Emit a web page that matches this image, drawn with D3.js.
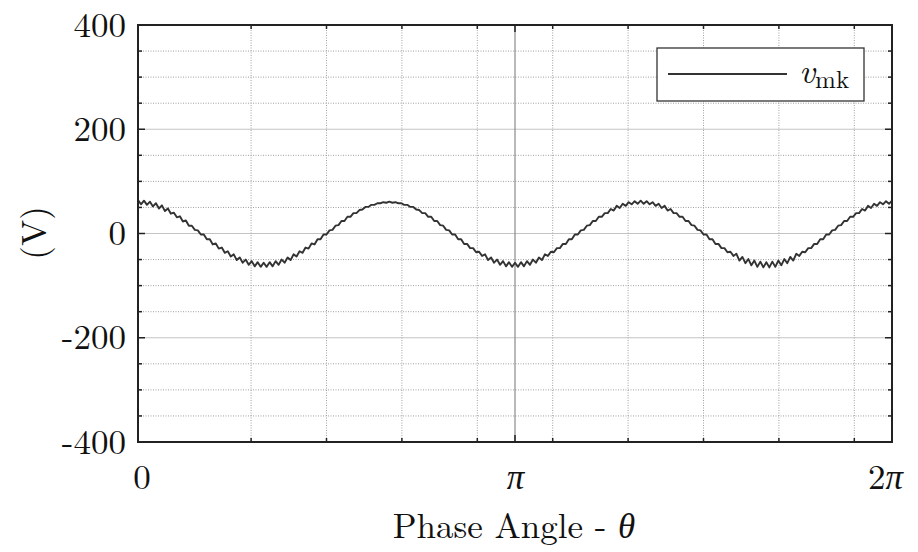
<!DOCTYPE html>
<html>
<head>
<meta charset="utf-8">
<style>
  body { margin: 0; background: #fff; }
</style>
</head>
<body>
<svg id="chart" width="918" height="552"></svg>
<script src="https://cdn.jsdelivr.net/npm/d3@7/dist/d3.min.js"></script>
<script>
// v_mk samples, evenly spaced over one turn 0..2pi (V)
var vmk = [
  64, 56, 63, 55, 61, 52, 58, 48, 54, 43, 48, 38, 40, 31, 33, 23, 25, 15, 15, 7, 6,
  -2, -2, -11, -11, -21, -19, -29, -27, -37, -34, -44, -40, -51, -46, -56, -50, -60, -53, -63, -55, -64,
  -56, -64, -55, -63, -53, -60, -50, -56, -46, -51, -40, -44, -34, -37, -27, -29, -19, -21, -11, -11, -2,
  -2, 6, 7, 15, 16, 24, 24, 32, 32, 39, 39, 45, 46, 51, 51, 55, 55, 58, 58, 60, 59,
  61, 59, 60, 58, 58, 55, 55, 51, 51, 46, 45, 39, 39, 32, 32, 24, 24, 16, 15, 7, 6,
  -2, -2, -11, -11, -20, -20, -28, -28, -36, -35, -43, -40, -51, -46, -56, -50, -60, -53, -63, -55, -64,
  -56, -64, -55, -63, -53, -60, -50, -56, -46, -51, -40, -43, -35, -36, -28, -28, -20, -20, -11, -11, -2,
  -2, 6, 7, 15, 16, 24, 24, 32, 32, 39, 39, 47, 44, 53, 49, 57, 53, 60, 56, 62, 57,
  63, 57, 62, 56, 60, 53, 57, 49, 53, 44, 47, 39, 39, 32, 32, 24, 24, 16, 15, 7, 6,
  -2, -2, -11, -11, -20, -20, -28, -28, -36, -35, -43, -39, -52, -45, -57, -49, -61, -52, -64, -54, -65,
  -55, -65, -54, -64, -52, -61, -49, -57, -45, -52, -39, -43, -35, -36, -28, -28, -20, -20, -11, -11, -2,
  -2, 6, 7, 15, 16, 24, 24, 32, 32, 39, 39, 47, 44, 53, 49, 57, 53, 60, 56, 62, 57, 63
];

var yTicks = [-400, -200, 0, 200, 400];
var yMinor = [-350, -300, -250, -150, -100, -50, 50, 100, 150, 250, 300, 350];
var xTicks = [0, 1, 2];                  // multiples of pi
var xTickCoef = ["0", "", "2"];          // upright part of the label
var xTickSym = ["", "π", "π"];           // italic part of the label
var xMinor = [0.3, 0.5, 0.7, 0.9, 1.1, 1.3, 1.5, 1.7, 1.9]; // multiples of pi
var seriesName = "v";
var seriesSub = "mk";

var FONT = "'Latin Modern Roman', 'Liberation Serif', serif";

var svg = d3.select("#chart"),
    margin = {top: 25, right: 26, bottom: 110, left: 138},
    width = +svg.attr("width") - margin.left - margin.right,
    height = +svg.attr("height") - margin.top - margin.bottom,
    g = svg.append("g").attr("transform", "translate(" + margin.left + "," + margin.top + ")");

var x = d3.scaleLinear().domain([0, 2 * Math.PI]).range([0, width]);
var y = d3.scaleLinear().domain([-400, 400]).range([height, 0]);

// grid
g.selectAll(".ygrid-minor")
    .data(yMinor)
  .enter().append("line")
    .attr("x1", 0).attr("x2", width)
    .attr("y1", function(d) { return y(d); }).attr("y2", function(d) { return y(d); })
    .attr("stroke", "#a0a0a0").attr("stroke-width", 1).attr("stroke-dasharray", "1,1.5");

g.selectAll(".ygrid-major")
    .data(yTicks.slice(1, -1))
  .enter().append("line")
    .attr("x1", 0).attr("x2", width)
    .attr("y1", function(d) { return y(d); }).attr("y2", function(d) { return y(d); })
    .attr("stroke", "#c4c4c4").attr("stroke-width", 1.2);

g.selectAll(".xgrid-minor")
    .data(xMinor)
  .enter().append("line")
    .attr("y1", 0).attr("y2", height)
    .attr("x1", function(d) { return x(d * Math.PI); }).attr("x2", function(d) { return x(d * Math.PI); })
    .attr("stroke", "#a0a0a0").attr("stroke-width", 1).attr("stroke-dasharray", "1,1.5");

g.append("line")
    .attr("y1", 0).attr("y2", height)
    .attr("x1", x(Math.PI)).attr("x2", x(Math.PI))
    .attr("stroke", "#8a8a8a").attr("stroke-width", 1.2);

// axes (inward ticks on all four sides, labels left and bottom)
var allY = yTicks.concat(yMinor);
var yTickLen = function(d) { return yTicks.indexOf(d) >= 0 ? 7 : 4; };

g.append("g")
    .call(d3.axisLeft(y).tickValues(yTicks).tickSize(0).tickPadding(12)
      .tickFormat(function(d) { return d < 0 ? "-" + Math.abs(d) : d; }))
    .call(function(a) { a.select(".domain").remove(); })
    .selectAll("text")
    .attr("font-size", 35).style("font-family", FONT).attr("fill", "#111");

var xa = g.append("g")
    .attr("transform", "translate(0," + height + ")")
    .call(d3.axisBottom(x).tickValues(xTicks.map(function(d) { return d * Math.PI; }))
      .tickSize(0).tickPadding(22)
      .tickFormat(function() { return ""; }))
    .call(function(a) { a.select(".domain").remove(); });

xa.selectAll(".tick text")
    .attr("font-size", 35).style("font-family", FONT).attr("fill", "#111")
    .attr("dx", function(d, i) { return i == 2 ? "-0.2em" : (i == 0 ? "0.1em" : 0); })
    .each(function(d, i) {
      var t = d3.select(this);
      if (xTickCoef[i]) t.append("tspan").text(xTickCoef[i]);
      if (xTickSym[i]) t.append("tspan").attr("font-style", "italic").text(xTickSym[i]);
    });

var ticks = g.append("g").attr("stroke", "#222").attr("stroke-width", 1.5);
allY.forEach(function(d) {
  ticks.append("line").attr("x1", 0).attr("x2", yTickLen(d)).attr("y1", y(d)).attr("y2", y(d));
  ticks.append("line").attr("x1", width).attr("x2", width - yTickLen(d)).attr("y1", y(d)).attr("y2", y(d));
});
xMinor.concat([1]).forEach(function(d) {
  var len = d == 1 ? 7 : 4;
  ticks.append("line").attr("x1", x(d * Math.PI)).attr("x2", x(d * Math.PI)).attr("y1", height).attr("y2", height - len);
  ticks.append("line").attr("x1", x(d * Math.PI)).attr("x2", x(d * Math.PI)).attr("y1", 0).attr("y2", len);
});

// the curve
var line = d3.line()
    .x(function(d, i) { return x(i * 2 * Math.PI / (vmk.length - 1)); })
    .y(function(d) { return y(d); });

g.append("path")
    .datum(vmk)
    .attr("fill", "none")
    .attr("stroke", "#333")
    .attr("stroke-width", 1.9)
    .attr("stroke-linejoin", "round")
    .attr("d", line);

// frame
g.append("rect")
    .attr("width", width).attr("height", height)
    .attr("fill", "none").attr("stroke", "#222").attr("stroke-width", 2);

// axis titles
svg.append("text")
    .attr("x", margin.left + width / 2 - 1)
    .attr("y", 538)
    .attr("text-anchor", "middle")
    .attr("font-size", 35)
    .attr("fill", "#111")
    .style("font-family", FONT)
    .text("Phase Angle - ")
  .append("tspan")
    .attr("font-style", "italic")
    .text("θ");

svg.append("text")
    .attr("transform", "translate(31,233) rotate(-90)")
    .attr("text-anchor", "middle")
    .attr("dominant-baseline", "central")
    .attr("font-size", 35)
    .attr("fill", "#111")
    .style("font-family", FONT)
    .text("(V)");

// legend
var lg = g.append("g").attr("transform", "translate(" + (width - 235) + ",23)");
lg.append("rect")
    .attr("width", 207).attr("height", 53)
    .attr("fill", "#fff").attr("stroke", "#333").attr("stroke-width", 1.3);
lg.append("line")
    .attr("x1", 11).attr("x2", 130).attr("y1", 26).attr("y2", 26)
    .attr("stroke", "#333").attr("stroke-width", 1.9);
var lt = lg.append("text").attr("x", 142).attr("y", 35).attr("font-size", 35)
    .attr("fill", "#111").style("font-family", FONT);
lt.append("tspan").attr("font-style", "italic").text(seriesName);
lt.append("tspan").attr("font-size", 25).attr("dy", 5).text(seriesSub);
</script>
</body>
</html>
